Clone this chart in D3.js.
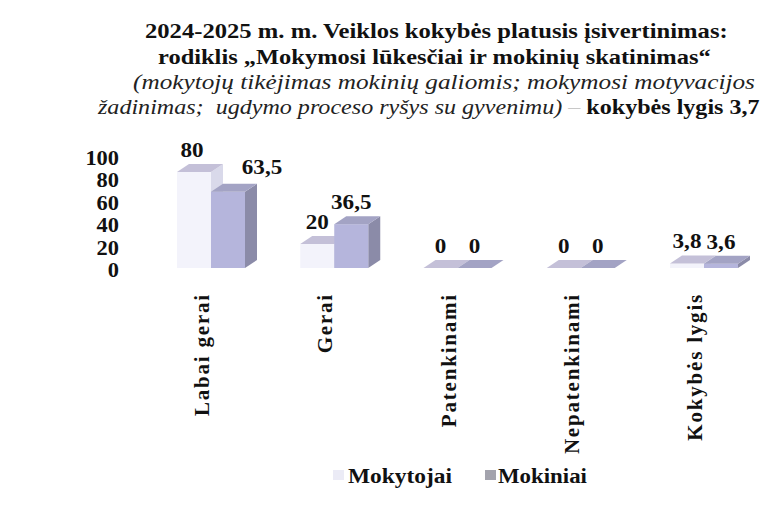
<!DOCTYPE html>
<html>
<head>
<meta charset="utf-8">
<script src="https://cdn.jsdelivr.net/npm/d3@7"></script>
<style>
  html, body { margin: 0; padding: 0; background: #ffffff; }
  svg { display: block; }
  text { font-family: "Liberation Serif", "Times New Roman", serif; }
</style>
</head>
<body>
<svg id="chart" width="772" height="506"></svg>
<script>
// ---- data ----
const categories = ["Labai gerai", "Gerai", "Patenkinami", "Nepatenkinami", "Kokybės lygis"];
const seriesNames = ["Mokytojai", "Mokiniai"];
const mokytojai = [80, 20, 0, 0, 3.8];
const mokiniai = [63.5, 36.5, 0, 0, 3.6];
const yTicks = [0, 20, 40, 60, 80, 100];
const titleLines = [
  "2024-2025 m. m. Veiklos kokybės platusis įsivertinimas:",
  "rodiklis „Mokymosi lūkesčiai ir mokinių skatinimas“",
  "(mokytojų tikėjimas mokinių galiomis; mokymosi motyvacijos",
];
const titleLine4Italic = "žadinimas;  ugdymo proceso ryšys su gyvenimu)";
const titleLine4Dash = " – ";
const titleLine4Bold = "kokybės lygis 3,7";

const fmt = v => String(v).replace(".", ",");

const svg = d3.select("#chart");
svg.append("rect").attr("width", 772).attr("height", 506).attr("fill", "#ffffff");

// fit a horizontal text between left and right by stretching it horizontally
function fitStretch(sel, left, right, baseline) {
  sel.attr("x", 0).attr("y", 0).attr("text-anchor", "start");
  const len = sel.node().getComputedTextLength();
  const sx = (right - left) / len;
  sel.attr("transform", `translate(${left},${baseline}) scale(${sx},1)`);
}

// ---- title ----
const t1 = svg.append("text").attr("font-size", 21).attr("font-weight", "bold")
  .attr("fill", "#111").text(titleLines[0]);
fitStretch(t1, 145, 728, 38);
const t2 = svg.append("text").attr("font-size", 21).attr("font-weight", "bold")
  .attr("fill", "#111").text(titleLines[1]);
fitStretch(t2, 158, 711, 64);
const t3 = svg.append("text").attr("font-size", 21).attr("font-style", "italic")
  .attr("fill", "#222").text(titleLines[2]);
fitStretch(t3, 133, 755, 89);
const t4 = svg.append("text").attr("font-size", 21).attr("fill", "#222")
  .style("white-space", "pre");
t4.append("tspan").attr("font-style", "italic").text(titleLine4Italic);
t4.append("tspan").attr("fill", "#c8c8c8").text(titleLine4Dash);
t4.append("tspan").attr("font-weight", "bold").attr("fill", "#111").text(titleLine4Bold);
fitStretch(t4, 98, 760, 114);

// ---- scales ----
const x = d3.scalePoint().domain(categories).range([211, 704]);
const y = d3.scaleLinear().domain([0, 100]).range([268, 148]);
const yAxisScale = d3.scaleLinear().domain([0, 100]).range([270, 158]);
const barW = 34;
const dx = 12, dy = -8;

// ---- y axis (labels only) ----
const yAxis = d3.axisLeft(yAxisScale).tickValues(yTicks).tickSize(0).tickPadding(0).tickFormat(d => d);
const gy = svg.append("g").attr("transform", "translate(119,0)").call(yAxis);
gy.select(".domain").remove();
gy.selectAll("text")
  .attr("font-family", "Liberation Serif, serif")
  .attr("font-size", 20).attr("font-weight", "bold").attr("fill", "#111")
  .attr("transform", "scale(1.12,1)");

// ---- bars ----
const styles = {
  "Mokytojai": { front: "#f3f3fb", top: "#c4c0d8", side: "#d9d9ea" },
  "Mokiniai": { front: "#b5b5dc", top: "#a3a3c4", side: "#8b8ba8" }
};
const rows = [];
categories.forEach((c, i) => {
  rows.push({ cat: c, s: "Mokytojai", v: mokytojai[i], idx: 0 });
  rows.push({ cat: c, s: "Mokiniai", v: mokiniai[i], idx: 1 });
});
const base = y(0);
const bars = svg.append("g");
rows.forEach(d => {
  const x0 = x(d.cat) - barW + d.idx * barW;
  const yt = y(d.v);
  const st = styles[d.s];
  const g = bars.append("g");
  g.append("polygon")
    .attr("points", [[x0 + barW, yt], [x0 + barW + dx, yt + dy], [x0 + barW + dx, base + dy], [x0 + barW, base]].join(" "))
    .attr("fill", st.side);
  g.append("rect").attr("x", x0).attr("y", yt).attr("width", barW).attr("height", base - yt)
    .attr("fill", st.front);
  g.append("polygon")
    .attr("points", [[x0, yt], [x0 + barW, yt], [x0 + barW + dx, yt + dy], [x0 + dx, yt + dy]].join(" "))
    .attr("fill", st.top);
});

// ---- data labels ----
const labelShift = { "Labai gerai|Mokiniai": 34, "Labai gerai|Mokytojai": -2 };
rows.forEach(d => {
  const xc = x(d.cat) - barW / 2 + d.idx * barW + (labelShift[d.cat + "|" + d.s] || 0);
  const yb = y(d.v) - 15 + (d.cat === "Labai gerai" && d.s === "Mokiniai" ? -3 : 0);
  svg.append("text")
    .attr("x", 0).attr("y", 0)
    .attr("transform", `translate(${xc},${yb}) scale(1.1,1)`)
    .attr("text-anchor", "middle")
    .attr("font-size", 21).attr("font-weight", "bold").attr("fill", "#111")
    .text(fmt(d.v));
});

// ---- category labels ----
categories.forEach(c => {
  svg.append("text")
    .attr("transform", `translate(${x(c) - 2},293) rotate(-90)`)
    .attr("text-anchor", "end")
    .attr("font-size", 21).attr("font-weight", "bold").attr("fill", "#111")
    .style("letter-spacing", "1.8px")
    .text(c);
});

// ---- legend ----
const legendItems = [
  { name: seriesNames[0], color: "#ebebf6", mx: 333, tx: 348, tr: 452 },
  { name: seriesNames[1], color: "#a3a3ad", mx: 485, tx: 498, tr: 587 }
];
legendItems.forEach(l => {
  svg.append("rect").attr("x", l.mx).attr("y", 470).attr("width", 11).attr("height", 10).attr("fill", l.color);
  const t = svg.append("text")
    .attr("font-size", 21).attr("font-weight", "bold").attr("fill", "#111")
    .text(l.name);
  fitStretch(t, l.tx, l.tr, 483);
});
</script>
</body>
</html>
